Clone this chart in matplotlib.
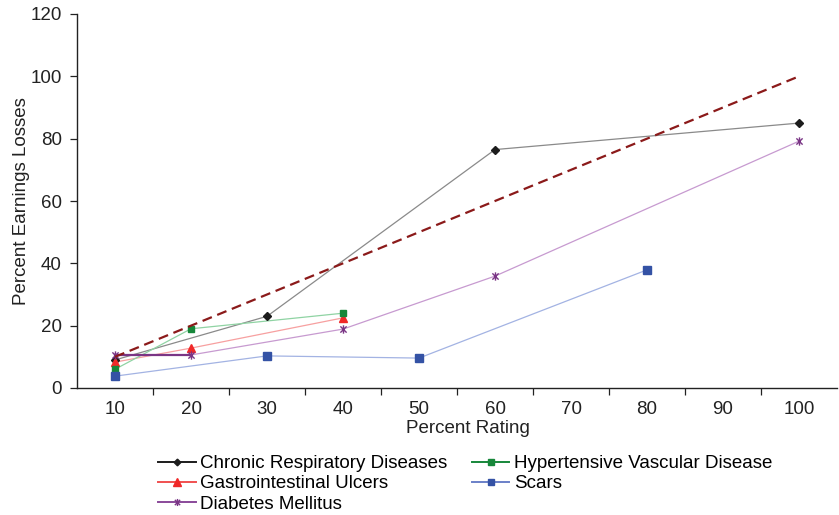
import matplotlib
matplotlib.use("Agg")
import matplotlib.pyplot as plt
from matplotlib.path import Path

plt.rcParams['font.family'] = ['Liberation Sans', 'DejaVu Sans']

# Category positions on the rating axis
ratings = [10, 20, 30, 40, 50, 60, 70, 80, 90, 100]

# Series: (ratings, earnings losses)
chronic_x = [10, 30, 60, 100]
chronic_y = [9.0, 23.0, 76.5, 85.0]

hypert_x = [10, 20, 40]
hypert_y = [6.0, 19.0, 24.0]

gastro_x = [10, 20, 40]
gastro_y = [8.3, 12.8, 22.5]

scars_x = [10, 30, 50, 80]
scars_y = [3.8, 10.3, 9.6, 37.9]

diab_x = [10, 20, 40, 60, 100]
diab_y = [10.6, 10.6, 18.9, 35.9, 79.2]

# Reference line of equal rating and loss
ref_x = [10, 100]
ref_y = [10, 100]

yticks = [0, 20, 40, 60, 80, 100, 120]

FS = 13.5

# Star marker: vertical bar plus an X
star = Path([(0, -1), (0, 1), (-0.75, -0.75), (0.75, 0.75), (-0.75, 0.75), (0.75, -0.75)],
            [Path.MOVETO, Path.LINETO, Path.MOVETO, Path.LINETO, Path.MOVETO, Path.LINETO])

fig = plt.figure(figsize=(8.39, 5.15), dpi=100)
ax = fig.add_axes([77 / 839, 1 - 388 / 515, 760 / 839, 374 / 515])

series = [
    (chronic_x, chronic_y, "Chronic Respiratory Diseases", "#1c1c1c", "#8a8a8a", "#1c1c1c", "D", 4),
    (gastro_x, gastro_y, "Gastrointestinal Ulcers", "#f02828", "#f7a0a0", "#f05050", "^", 6),
    (diab_x, diab_y, "Diabetes Mellitus", "#7a3585", "#c79ad0", "#8a4a9a", star, 6),
    (hypert_x, hypert_y, "Hypertensive Vascular Disease", "#17873a", "#8fd3a3", "#17873a", "s", 5),
    (scars_x, scars_y, "Scars", "#3452a5", "#a3b3e3", "#6a80c8", "s", 5.3),
]

handles = []
for xs, ys, name, mcol, lcol, hcol, mk, ms in series:
    ax.plot(xs, ys, color=lcol, lw=0.9, zorder=2)
    ax.plot(xs, ys, linestyle='none', marker=mk, markersize=ms, color=mcol,
            markeredgecolor=mcol, markeredgewidth=1.0, zorder=4)
    h, = ax.plot([], [], color=hcol, lw=1.4, marker=mk, markersize=ms * 0.85,
                 markerfacecolor=mcol, markeredgecolor=mcol, markeredgewidth=1.0)
    handles.append((h, name))

# Emphasised first segment of the diabetes series
ax.plot(diab_x[:2], diab_y[:2], color="#7a3585", lw=1.6, zorder=3)

ax.plot(ref_x, ref_y, color="#8b1a1a", lw=1.6, dashes=(4.5, 2.6), zorder=5)

ax.set_xlim(5, 105)
ax.set_ylim(0, 120)
ax.set_xticks(ratings)
ax.set_xticklabels([str(r) for r in ratings])
ax.set_xticks([r + 5 for r in ratings[:-1]], minor=True)
ax.tick_params(axis='x', which='major', length=0, labelsize=FS, pad=9, colors='#222222')
ax.tick_params(axis='x', which='minor', length=5, width=0.9, direction='out', color='#222222')
ax.set_yticks(yticks)
ax.tick_params(axis='y', length=5, width=0.9, direction='out', labelsize=FS, pad=6, colors='#222222')

for s in ['top', 'right']:
    ax.spines[s].set_visible(False)
for s in ['left', 'bottom']:
    ax.spines[s].set_linewidth(1.0)
    ax.spines[s].set_color('#222222')

ax.set_xlabel("Percent Rating", fontsize=FS, color='#222222')
ax.xaxis.set_label_coords(0.515, -0.085)
ax.set_ylabel("Percent Earnings Losses", fontsize=FS, color='#222222', labelpad=0)

fig.legend([h for h, _ in handles], [n for _, n in handles], ncol=2,
           loc='upper left', bbox_to_anchor=(158 / 839, 1 - 455 / 515),
           frameon=False, fontsize=FS, handlelength=2.0, handletextpad=0.25,
           columnspacing=1.3, labelspacing=0.17, borderpad=0, borderaxespad=0)

fig.savefig("out.png", dpi=100)
